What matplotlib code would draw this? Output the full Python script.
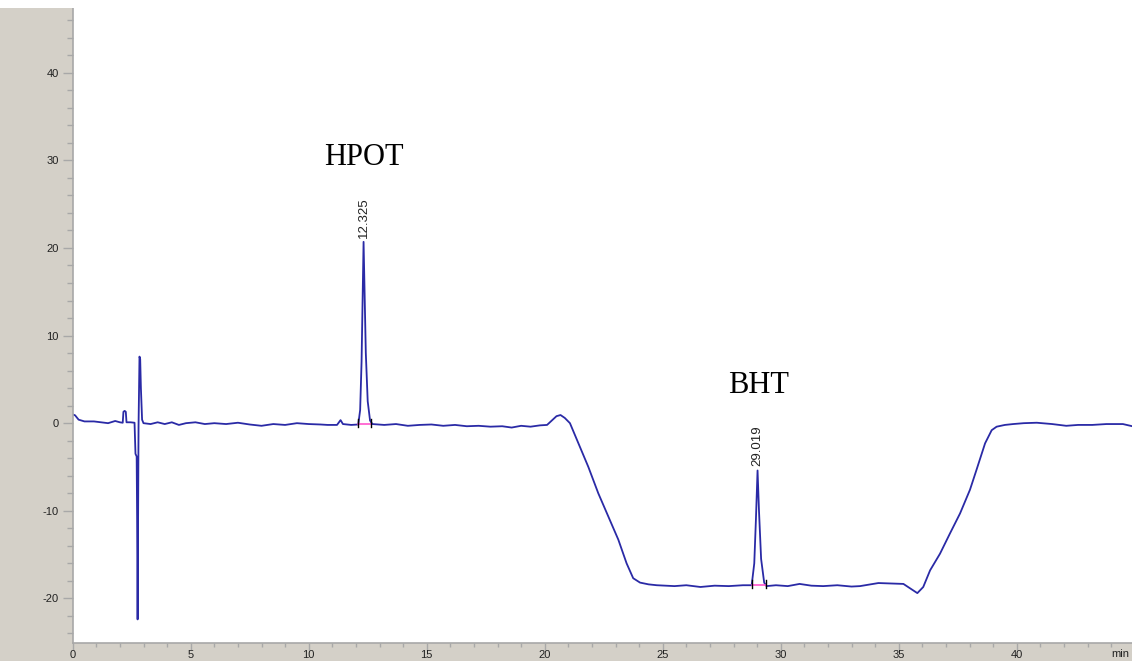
import numpy as np
import matplotlib.pyplot as plt
from matplotlib.ticker import MultipleLocator

plt.rcParams['axes.unicode_minus'] = False

# chromatogram trace (min, signal)
time = [0.0, 0.1, 0.25, 0.5, 0.9, 1.2, 1.5, 1.8, 2.0, 2.12, 2.15, 2.2, 2.25, 2.28,
        2.45, 2.62, 2.66, 2.71, 2.73, 2.75, 2.79, 2.83, 2.86, 2.89, 2.94, 3.0,
        3.3, 3.6, 3.9, 4.2, 4.5, 4.8, 5.2, 5.6, 6.0, 6.5, 7.0, 7.5, 8.0, 8.5,
        9.0, 9.5, 10.0, 10.5, 10.8, 11.2, 11.35, 11.45, 11.8, 12.1, 12.18, 12.24,
        12.29, 12.325, 12.36, 12.42, 12.5, 12.6, 12.7, 13.2, 13.7, 14.2, 14.7,
        15.2, 15.7, 16.2, 16.7, 17.2, 17.7, 18.2, 18.6, 19.0, 19.4, 19.8, 20.1,
        20.3, 20.5, 20.67, 20.85, 21.07, 21.43, 21.85, 22.27, 22.77, 23.12, 23.47,
        23.75, 24.04, 24.4, 24.75, 25.5, 26.0, 26.6, 27.2, 27.8, 28.4, 28.77,
        28.88, 28.95, 29.019, 29.08, 29.17, 29.3, 29.4, 29.8, 30.3, 30.8, 31.3,
        31.8, 32.4, 33.0, 33.36, 33.8, 34.14, 34.7, 35.2, 35.48, 35.79, 36.04,
        36.33, 36.75, 37.17, 37.6, 38.02, 38.3, 38.66, 38.94, 39.15, 39.5, 39.85,
        40.3, 40.85, 41.5, 42.1, 42.6, 43.2, 43.8, 44.5, 44.9]
signal = [1.0, 0.9, 0.4, 0.2, 0.2, 0.1, 0.0, 0.25, 0.1, 0.05, 1.3, 1.4, 1.3, 0.1,
          0.1, 0.05, -3.5, -3.8, -11.0, -22.4, -0.3, 7.6, 7.3, 4.0, 0.4, 0.0,
          -0.1, 0.1, -0.1, 0.1, -0.2, 0.0, 0.1, -0.1, 0.0, -0.1, 0.05, -0.15, -0.3, -0.1,
          -0.2, 0.0, -0.1, -0.15, -0.2, -0.2, 0.35, -0.1, -0.2, -0.15, 1.5, 7.0,
          15.5, 20.7, 16.0, 8.0, 2.5, 0.3, -0.1, -0.2, -0.1, -0.3, -0.2,
          -0.15, -0.3, -0.2, -0.35, -0.3, -0.4, -0.35, -0.5, -0.3, -0.4, -0.25, -0.2,
          0.3, 0.8, 0.93, 0.6, 0.0, -2.3, -5.0, -8.0, -11.1, -13.3, -16.0,
          -17.7, -18.2, -18.4, -18.5, -18.6, -18.5, -18.7, -18.55, -18.6, -18.5, -18.5,
          -16.0, -11.0, -5.4, -10.0, -15.5, -18.2, -18.6, -18.5, -18.6, -18.35, -18.55,
          -18.6, -18.5, -18.65, -18.6, -18.4, -18.25, -18.3, -18.35, -18.85, -19.4, -18.7,
          -16.8, -14.9, -12.6, -10.3, -7.6, -5.3, -2.3, -0.8, -0.4, -0.2, -0.1,
          0.0, 0.05, -0.1, -0.3, -0.2, -0.2, -0.1, -0.1, -0.35]

# integrated peaks
peak_rt = [12.325, 29.019]
peak_top = [20.7, -5.4]
peak_start = [12.1, 28.77]
peak_end = [12.62, 29.36]
peak_base = [-0.15, -18.5]

compound_names = ['HPOT', 'BHT']
compound_x = [12.325, 29.05]
compound_y = [30.3, 4.3]

gray = '#d4d0c8'
line_blue = '#2a2aa6'

fig = plt.figure(figsize=(11.32, 6.61), dpi=100, facecolor=gray)
fig.patches.append(plt.Rectangle((0, 1 - 8 / 661), 1, 8 / 661, transform=fig.transFigure,
                                 facecolor='white', edgecolor='none', zorder=0))
ax = fig.add_axes([72.7 / 1132, 18.3 / 661, 1 - 72.7 / 1132, (642.7 - 7.6) / 661])
ax.set_facecolor('white')

ax.plot(time, signal, color=line_blue, lw=1.3, solid_joinstyle='round')

# baselines under integrated peaks
for s, e, b in zip(peak_start, peak_end, peak_base):
    ax.plot([s, e], [b, b], color='#ff55cc', lw=1.2)
    ax.plot([s, s], [b - 0.3, b + 0.6], color='black', lw=1)
    ax.plot([e, e], [b - 0.3, b + 0.6], color='black', lw=1)

for rt, top in zip(peak_rt, peak_top):
    ax.annotate(f'{rt:.3f}', (rt, top), xytext=(0, 3), textcoords='offset points',
                rotation=90, ha='center', va='bottom', fontsize=9.5,
                family='Liberation Sans', color='#222222')

for name, x, y in zip(compound_names, compound_x, compound_y):
    ax.text(x, y, name, ha='center', va='center', fontsize=22,
            family='Liberation Serif', color='black')

ax.set_xlim(0, (1132 - 72.7) / 23.6)
ax.set_ylim(-25.06, 47.44)

ax.xaxis.set_major_locator(MultipleLocator(5))
ax.xaxis.set_minor_locator(MultipleLocator(1))
ax.yaxis.set_major_locator(MultipleLocator(10))
ax.yaxis.set_minor_locator(MultipleLocator(2))

for side in ['top', 'right']:
    ax.spines[side].set_visible(False)
for side in ['left', 'bottom']:
    ax.spines[side].set_color('#a8a8a8')
    ax.spines[side].set_linewidth(1.2)

ax.tick_params(which='major', direction='out', width=1, color='#a8a8a8',
               labelsize=8, labelcolor='#222222')
ax.tick_params(axis='y', which='major', length=7, pad=3)
ax.tick_params(axis='y', which='minor', length=4, width=1, color='#a8a8a8')
ax.tick_params(axis='x', which='major', length=5, pad=0.5)
ax.tick_params(axis='x', which='minor', length=3, width=1, color='#a8a8a8')
for lab in ax.get_xticklabels() + ax.get_yticklabels():
    lab.set_family('Liberation Sans')

fig.text(1129 / 1132, 7 / 661, 'min', ha='right', va='center', fontsize=8,
         family='Liberation Sans', color='#222222')

fig.savefig('out.png', dpi=100, facecolor=gray)
